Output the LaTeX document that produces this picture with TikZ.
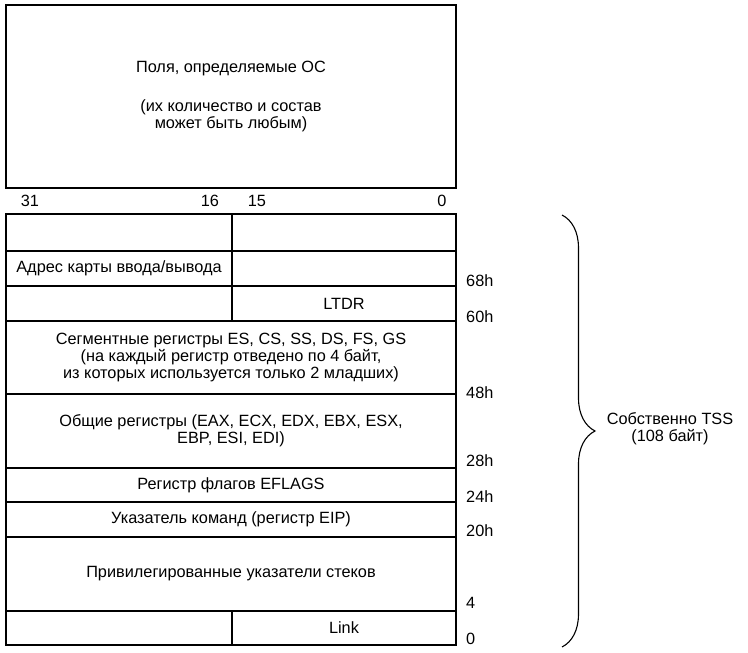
\documentclass[tikz,border=0pt]{standalone}
\usepackage{fontspec}
\setmainfont{Liberation Sans}
\usetikzlibrary{positioning, decorations.pathreplacing}
\tikzset{%
	cell/.style={draw, rectangle, inner sep=0pt, outer sep=0pt, line width=1.1pt, align=center,
		font=\fontsize{16.3}{17.3}\selectfont},
	halfl/.style={cell, minimum width=226, minimum height=#1},
	halfr/.style={cell, minimum width=224, minimum height=#1},
	full/.style={cell, minimum width=450, minimum height=#1, anchor=north west},
	offs/.style={anchor=west, inner sep=0pt, font=\fontsize{16.3}{17.3}\selectfont},
	bitno/.style={inner sep=0pt, font=\fontsize{16.3}{17.3}\selectfont}
}
\begin{document}
\begin{tikzpicture}[x=1pt, y=-1pt]
	\useasboundingbox (0,0) rectangle (748,653);
	%OS fields
	\node [full=183] (os) at (6,5) {Поля, определяемые ОС\\[21pt](их количество и состав\\может быть любым)};
	%bit numbers
	\node [bitno] (b31) at (30,201) {31};
	\node [bitno] (b16) at (210,201) {16};
	\node [bitno] (b15) at (257,201) {15};
	\node [bitno] (b0)  at (442,201) {0};
	%TSS rows
	\node [halfl=37, anchor=north west] (l1) at (6,214) {};
	\node [halfr=37, right=0pt of l1] (r1) {};
	\node [halfl=35, below=0pt of l1] (l2) {Адрес карты ввода/вывода};
	\node [halfr=35, right=0pt of l2] (r2) {};
	\node [halfl=35, below=0pt of l2] (l3) {};
	\node [halfr=35, right=0pt of l3] (r3) {LTDR};
	\node [full=73] (seg) at (l3.south west) {Сегментные регистры ES, CS, SS, DS, FS, GS\\(на каждый регистр отведено по 4 байт,\\из которых используется только 2 младших)};
	\node [full=74] (gen) at (seg.south west) {Общие регистры (EAX, ECX, EDX, EBX, ESX,\\EBP, ESI, EDI)};
	\node [full=34] (flags) at (gen.south west) {Регистр флагов EFLAGS};
	\node [full=35] (eip) at (flags.south west) {Указатель команд (регистр EIP)};
	\node [full=74] (stk) at (eip.south west) {Привилегированные указатели стеков};
	\node [halfl=34, anchor=north west] (l9) at (stk.south west) {};
	\node [halfr=34, right=0pt of l9] (r9) {Link};
	%offsets
	\node [offs] (o68) at (466,281) {68h};
	\node [offs] (o60) at (466,317) {60h};
	\node [offs] (o48) at (466,393) {48h};
	\node [offs] (o28) at (466,461) {28h};
	\node [offs] (o24) at (466,497) {24h};
	\node [offs] (o20) at (466,531) {20h};
	\node [offs] (o4)  at (466,603) {4};
	\node [offs] (o0)  at (466,639) {0};
	%brace
	\coordinate (btop) at (562,215);
	\coordinate (bbot) at (562,647);
	\draw [line width=1.1pt, decorate, decoration={brace, amplitude=33pt}] (btop) -- (bbot);
	\node [cell, draw=none] (tss) at (670,429) {Собственно TSS\\(108 байт)};
\end{tikzpicture}
\end{document}
